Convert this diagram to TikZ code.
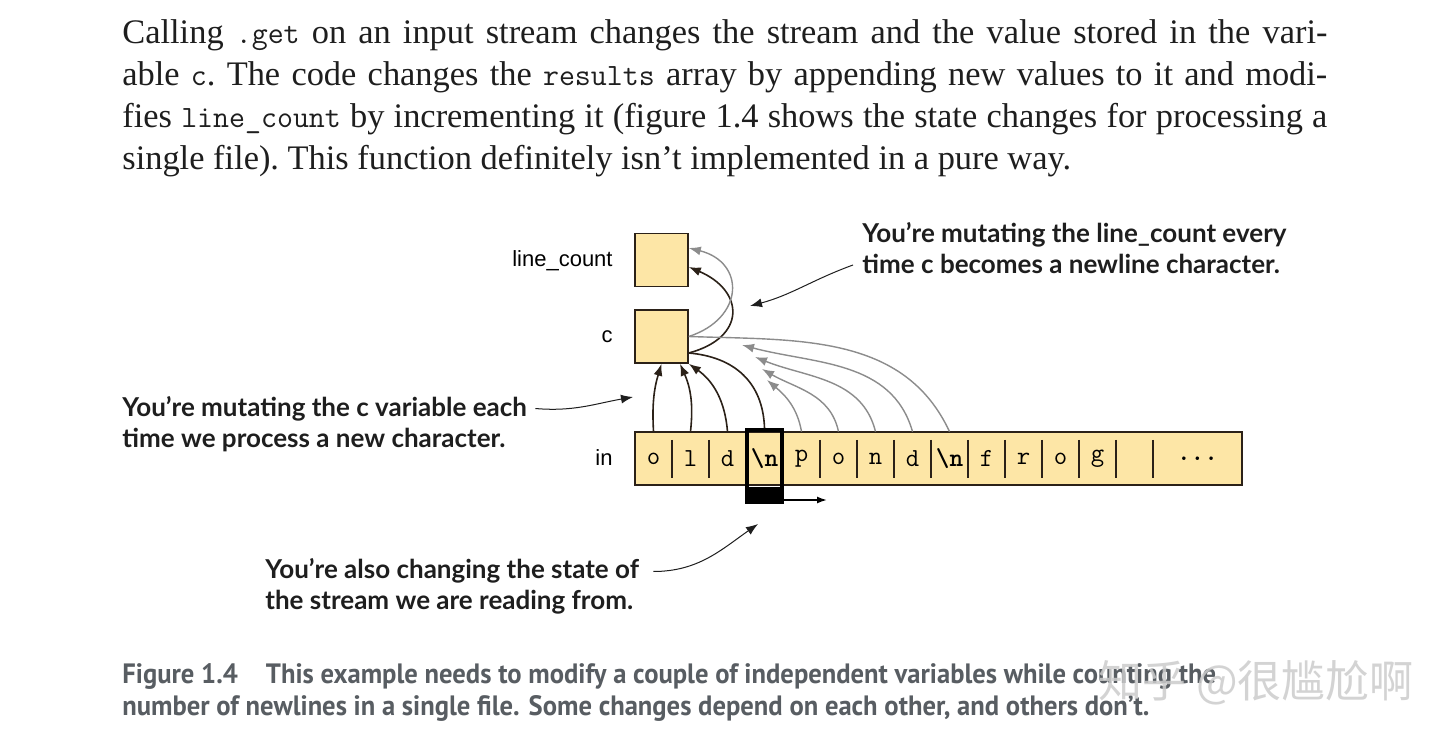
\documentclass[tikz,border=0pt]{standalone}
\usepackage{fontspec}
\setmainfont{Liberation Serif}
\newfontfamily\notefont{Lato}
\newfontfamily\capfont[FakeStretch=0.95]{PT Sans}
\newfontfamily\labelfont{Liberation Sans}
\newfontfamily\cjkfont{Noto Sans CJK SC}
\usepackage{tikz}
\usetikzlibrary{arrows.meta,calc,positioning}
\definecolor{boxfill}{RGB}{253,230,166}
\definecolor{boxline}{RGB}{43,33,24}
\definecolor{flowgray}{RGB}{140,140,140}
\definecolor{capgray}{RGB}{88,93,98}
\definecolor{inkblack}{RGB}{30,30,30}
\newcommand{\code}[1]{{\ttfamily\fontsize{15.5}{21}\selectfont #1}}
\newcommand{\fullline}[1]{\makebox[602.5pt][s]{#1}}
\tikzset{
    var box/.style={
        draw=boxline,
        fill=boxfill,
        line width=0.8pt,
        minimum width=26.5pt,
        minimum height=26.5pt,
        inner sep=0pt
    },
    var label/.style={font=\labelfont\fontsize{11}{13}\selectfont, inner sep=0pt},
    stream bar/.style={
        draw=boxline,
        fill=boxfill,
        line width=0.8pt,
        minimum width=303.5pt,
        minimum height=26.5pt,
        inner sep=0pt
    },
    stream char/.style={
        font=\ttfamily\fontsize{13}{15}\selectfont,
        minimum width=18.5pt,
        minimum height=26.5pt,
        inner sep=0pt
    },
    cursor box/.style={
        draw=black,
        line width=2pt,
        minimum width=17.5pt,
        minimum height=36pt,
        inner sep=0pt
    },
    note text/.style={
        font=\notefont\bfseries\fontsize{13}{15.5}\selectfont,
        align=left,
        inner sep=0pt,
        text=inkblack
    },
    note arrow/.style={-{Latex[length=6pt,width=4.5pt]}, line width=0.5pt, inkblack},
    step flow/.style={-{Latex[length=6pt,width=4.5pt]}, line width=0.8pt, boxline},
    dep flow/.style={-{Latex[length=6pt,width=4.5pt]}, line width=0.7pt, flowgray}
}

\begin{document}
\begin{tikzpicture}[x=0.5pt,y=-0.5pt]
    \fill[white] (0,0) rectangle (1449,742);
    \useasboundingbox (0,0) rectangle (1449,742);

    % running text above the figure
    \node[anchor=north west, text width=602.5pt, align=left, inner sep=0pt,
          font=\fontsize{17.2}{21}\selectfont, text=inkblack] (body) at (122,19) {%
        \spaceskip=0pt\xspaceskip=0pt\frenchspacing
        \noindent\fullline{Calling \code{.get} on an input stream changes the stream and the value stored in the vari-}\\
        \fullline{able \code{c}. The code changes the \code{results} array by appending new values to it and modi-}\\
        \fullline{fies \code{line\_count} by incrementing it (figure 1.4 shows the state changes for processing a}\\
        single file). This function definitely isn’t implemented in a pure way.};

    % variables
    \node[var box] (lc) at (661.5,260) {};
    \node[var box] (c) at (661.5,336.5) {};
    \node[var label, anchor=base east] (lclabel) at (613,267) {line\_count};
    \node[var label, anchor=base east] (clabel) at (613,343) {c};
    \node[var label, anchor=base east] (inlabel) at (613,466) {in};

    % input stream
    \node[stream bar] (stream) at (938.5,458.5) {};
    \foreach \k in {1,...,14} {
        \draw[boxline, line width=0.8pt] ({635+37*\k},440) -- ++(0,38);
    }
    \foreach \ch [count=\i] in {o,l,d,{\textbf{\textbackslash n}},p,o,n,d,{\textbf{\textbackslash n}},f,r,o,g,{}} {
        \node[stream char] (s\i) at ({653.5+37*(\i-1)},458.5) {\ch};
    }
    \node[stream char] (more) at (1197.5,458.5) {\textbf{...}};

    % read position
    \node[cursor box] (cur) at (764.5,466) {};
    \node[fill=black, minimum width=17.5pt, minimum height=8.5pt, inner sep=0pt, anchor=south] (blk) at (cur.south) {};
    \coordinate (nx) at (827,500);
    \draw[-{Latex[length=5pt,width=3.5pt]}, line width=0.8pt] (cur.east |- nx) -- (nx);

    % each character goes into c
    \draw[step flow] (s1.north) to[bend left=10] (c.south);
    \draw[step flow] (s2.north) to[bend right=15] ([xshift=9.25pt]c.south);
    \draw[step flow] (s3.north) to[bend right=25] (c.south east);
    \draw[boxline, line width=0.8pt] (cur.north) to[out=92,in=-5,looseness=1.1] ([yshift=-8.25pt]c.east);
    \draw[step flow] ([yshift=-8.25pt]c.east) to[out=15,in=-23,looseness=1.8] ([yshift=-3.5pt]lc.east);

    % the rest of the stream
    \coordinate (t5) at (767,380);
    \coordinate (t6) at (762,369);
    \coordinate (t7) at (755,357);
    \coordinate (t8) at (742,345);
    \foreach \i/\a/\b in {5/100/-40, 6/102/-30, 7/104/-22, 8/106/-15} {
        \draw[dep flow] (s\i.north) to[out=\a,in=\b] (t\i);
    }
    \draw[flowgray, line width=0.7pt] (s9.north) to[out=115,in=-2] (c.east);
    \draw[dep flow] (c.east) to[out=18,in=-14,looseness=1.7] ([yshift=6pt]lc.east);

    % callouts
    \node[note text, anchor=west] (notelc) at (862,248) {You’re mutating the line\_count every\\time c becomes a newline character.};
    \coordinate (tiplc) at (750,306);
    \draw[note arrow] ([shift={(-4.5pt,-8.5pt)}]notelc.west) to[out=200,in=15] (tiplc);

    \node[note text, anchor=west] (notec) at (122,424.5) {You’re mutating the c variable each\\time we process a new character.};
    \coordinate (tipc) at (633,397);
    \draw[note arrow] ([shift={(4pt,8pt)}]notec.east) to[out=-5,in=190] (tipc);

    \node[note text, anchor=west] (notein) at (265,586.5) {You’re also changing the state of\\the stream we are reading from.};
    \coordinate (tipin) at (758,524);
    \draw[note arrow] ([shift={(7pt,7.5pt)}]notein.east) to[out=0,in=215] (tipin);

    % caption
    \node[anchor=north west, align=left, inner sep=0pt, text=capgray,
          font=\capfont\bfseries\fontsize{14}{16}\selectfont] (caption) at (122,663) {%
        Figure 1.4\hspace{14pt}This example needs to modify a couple of independent variables while counting the\\
        number of newlines in a single file. Some changes depend on each other, and others don’t.};

    \node[anchor=west, inner sep=0pt, text=gray!40, opacity=0.85,
          font=\cjkfont\fontsize{22}{24}\selectfont] (mark) at (1098,683) {知乎 @很尴尬啊};
\end{tikzpicture}
\end{document}
